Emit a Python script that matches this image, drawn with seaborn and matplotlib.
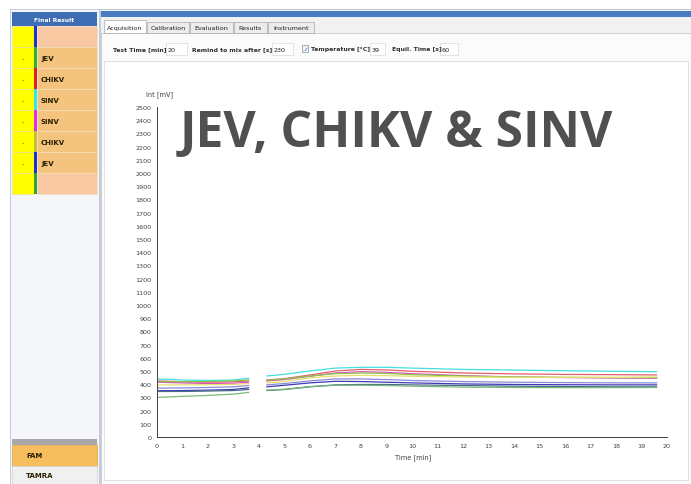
import matplotlib
matplotlib.use("Agg")
import matplotlib.pyplot as plt
from matplotlib.patches import Rectangle
import numpy as np
import pandas as pd
import seaborn as sns

W, H = 691, 485

# --- chart data (mV), two acquisition segments with a gap while mixing ---
seg1_time = [0, 1, 2, 3, 3.6]
seg2_time = [4.3, 5, 6, 7, 8, 9, 10, 12, 14, 16, 18, 19.6]

cyan_1 = [440, 432, 428, 432, 445]
cyan_2 = [462, 475, 500, 522, 528, 528, 522, 512, 507, 502, 498, 495]
red_1 = [425, 418, 415, 418, 425]
red_2 = [432, 442, 470, 500, 512, 508, 498, 485, 478, 474, 472, 470]
magenta_1 = [415, 410, 405, 408, 415]
magenta_2 = [425, 435, 460, 485, 495, 490, 480, 465, 455, 450, 447, 445]
olive_1 = [420, 418, 420, 425, 432]
olive_2 = [430, 440, 462, 480, 485, 482, 472, 462, 455, 452, 450, 450]
yellow_1 = [395, 395, 396, 398, 405]
yellow_2 = [410, 420, 448, 462, 468, 465, 460, 455, 452, 452, 452, 455]
purple_1 = [370, 372, 375, 380, 390]
purple_2 = [395, 405, 425, 440, 440, 435, 428, 420, 415, 412, 410, 410]
blue_1 = [350, 352, 355, 360, 372]
blue_2 = [380, 392, 410, 422, 420, 415, 410, 402, 398, 396, 395, 395]
navy_1 = [345, 345, 348, 352, 360]
navy_2 = [352, 360, 380, 395, 398, 398, 395, 390, 385, 382, 380, 380]
green_1 = [300, 308, 315, 325, 338]
green_2 = [355, 362, 382, 392, 392, 390, 385, 378, 375, 374, 374, 375]

series = {
    "cyan": (cyan_1, cyan_2, "#45dede"),
    "red": (red_1, red_2, "#e0606a"),
    "magenta": (magenta_1, magenta_2, "#e050c0"),
    "olive": (olive_1, olive_2, "#88c44a"),
    "yellow": (yellow_1, yellow_2, "#e6e070"),
    "purple": (purple_1, purple_2, "#8a8ad6"),
    "blue": (blue_1, blue_2, "#3a3ab4"),
    "navy": (navy_1, navy_2, "#4a6a8a"),
    "green": (green_1, green_2, "#78b878"),
}

rows = []
for name, (s1, s2, _) in series.items():
    for t, v in zip(seg1_time, s1):
        rows.append((name, "a", t, v))
    for t, v in zip(seg2_time, s2):
        rows.append((name, "b", t, v))
df = pd.DataFrame(rows, columns=["sample", "segment", "time", "mv"])
palette = {k: v[2] for k, v in series.items()}

# left panel
targets = ["", "JEV", "CHIKV", "SINV", "SINV", "CHIKV", "JEV", ""]
stripes = ["#1f2fd0", "#30b030", "#e02020", "#30e8e8", "#e030e0", "#c8c030", "#1f2fd0", "#30a030"]
tabs = ["Acquisition", "Calibration", "Evaluation", "Results", "Instrument"]
tab_x = [104, 147, 190, 234, 268, 315]

sns.set_style("white")
plt.rcParams["font.family"] = ["DejaVu Sans"]

fig = plt.figure(figsize=(W / 100, H / 100), dpi=100)
bg = fig.add_axes([0, 0, 1, 1])
bg.set_xlim(0, W)
bg.set_ylim(H, 0)
bg.axis("off")


def rect(x0, y0, x1, y1, fc, ec="none", lw=0.6, z=1):
    bg.add_patch(Rectangle((x0, y0), x1 - x0, y1 - y0, facecolor=fc,
                           edgecolor=ec, linewidth=lw, zorder=z))


# ---- left "Final Result" panel ----
rect(10, 10, 99, 485, "#f4f6fa", "#b8c4d4")
rect(12, 13, 97, 27, "#3e6db4")
bg.text(54.5, 20, "Final Result", color="white", fontsize=4.3, weight="bold",
        ha="center", va="center", zorder=3)
for i, (lab, col) in enumerate(zip(targets, stripes)):
    y0 = 27 + i * 21
    light = lab == ""
    rect(12, y0, 34, y0 + 21, "#ffff00", "#e8d8b0", 0.4)
    rect(37, y0, 97, y0 + 21, "#f8c8a2" if light else "#f4c47e", "#f8e0c0", 0.4)
    rect(34, y0, 37, y0 + 21, col, z=2)
    if lab:
        bg.text(23, y0 + 11, "-", fontsize=5, ha="center", va="center",
                color="#806000", zorder=3)
        bg.text(41, y0 + 11, lab, fontsize=5, weight="bold", ha="left",
                va="center", color="#2a2000", zorder=3)
rect(12, 440, 97, 446, "#a9a9a9")
rect(12, 446, 97, 467, "#f6be5c", "#e0a850")
rect(12, 467, 97, 485, "#f0f0f0", "#d8d8d8")
bg.text(26, 456.5, "FAM", fontsize=5, weight="bold", va="center", color="#2a2000", zorder=3)
bg.text(26, 476.5, "TAMRA", fontsize=5, weight="bold", va="center", color="#2a2000", zorder=3)

# ---- right panel ----
rect(100, 10, 691, 485, "#f2f2f2", "#b8c4d4")
rect(101, 12, 691, 18, "#4a7cc4")
for i, t in enumerate(tabs):
    active = i == 0
    rect(tab_x[i], 21 if active else 23, tab_x[i + 1] - 1, 34,
         "#ffffff" if active else "#ececec", "#a8a8a8", 0.5, z=2)
    bg.text((tab_x[i] + tab_x[i + 1] - 1) / 2, 28.5, t, fontsize=4.6,
            ha="center", va="center", color="#202020", zorder=3)
rect(101, 34, 691, 485, "#fbfbfb", "#c0c0c0", 0.5)

params = [("Test Time [min]", 113, 166, 187, "20"),
          ("Remind to mix after [s]", 192, 272, 293, "230"),
          ("Temperature [\u00b0C]", 311, 370, 385, "39"),
          ("Equil. Time [s]", 392, 440, 458, "60")]
for lab, tx, bx0, bx1, val in params:
    bg.text(tx, 50, lab, fontsize=4.4, weight="bold", va="center", color="#303030", zorder=3)
    rect(bx0, 44, bx1, 56, "white", "#d8d8d8", 0.5, z=2)
    bg.text(bx0 + 2, 50, val, fontsize=4.6, va="center", color="#202020", zorder=3)
rect(302, 46, 308, 53, "#eef2f8", "#8090a8", 0.5, z=2)
bg.text(305, 49.5, "\u2713", fontsize=4, ha="center", va="center", color="#3050a0", zorder=3)

rect(104, 62, 688, 481, "white", "#d4d4d4", 0.5)

# ---- chart ----
x0, x1, y0, y1 = 157, 667, 108, 438
ax = fig.add_axes([x0 / W, 1 - y1 / H, (x1 - x0) / W, (y1 - y0) / H])
ax.patch.set_alpha(0)
sns.lineplot(data=df, x="time", y="mv", hue="sample", units="segment",
             estimator=None, palette=palette, legend=False, linewidth=0.9, ax=ax)
ax.set_xlim(0, 20)
ax.set_ylim(0, 2500)
ax.set_xticks(range(0, 21))
ax.set_yticks(range(0, 2501, 100))
ax.tick_params(axis="both", direction="out", length=2.5, width=0.6,
               labelsize=4.6, colors="#404040", pad=1.5)
for s in ["top", "right"]:
    ax.spines[s].set_visible(False)
for s in ["left", "bottom"]:
    ax.spines[s].set_color("#404040")
    ax.spines[s].set_linewidth(0.7)
ax.set_xlabel("")
ax.set_ylabel("")
bg.text(413, 458, "Time [min]", fontsize=4.8, ha="center", va="center", color="#404040")
bg.text(146, 95, "Int [mV]", fontsize=4.8, ha="left", va="center", color="#404040")

title = bg.text(180, 134, "JEV, CHIKV & SINV", fontsize=30, weight="bold",
                family="Open Sans", color="#505050", ha="left", va="center", zorder=5)
fig.canvas.draw()
w = title.get_window_extent().width
title.set_fontsize(30 * 432 / w)

fig.savefig("out.png", dpi=100)
